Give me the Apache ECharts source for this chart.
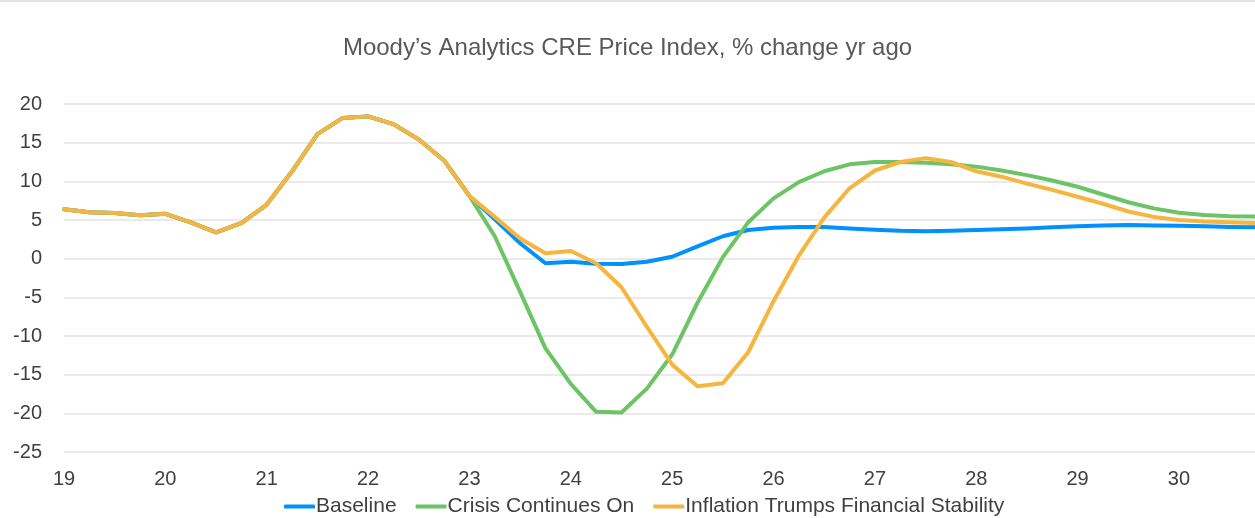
<!DOCTYPE html>
<html>
<head>
<meta charset="utf-8">
<title>Moody's Analytics CRE Price Index</title>
<script src="https://cdn.jsdelivr.net/npm/echarts@6/dist/echarts.min.js"></script>
<style>
	html, body { margin: 0; padding: 0; background: #fff; }
	#chart { width: 1255px; height: 518px; }
</style>
</head>
<body>
<div id="chart"></div>
<script type="text/javascript">
	// quarters 2019Q1 .. 2030Q4, label shown on Q1 only
	var quarters = [
		'19Q1','19Q2','19Q3','19Q4','20Q1','20Q2','20Q3','20Q4',
		'21Q1','21Q2','21Q3','21Q4','22Q1','22Q2','22Q3','22Q4',
		'23Q1','23Q2','23Q3','23Q4','24Q1','24Q2','24Q3','24Q4',
		'25Q1','25Q2','25Q3','25Q4','26Q1','26Q2','26Q3','26Q4',
		'27Q1','27Q2','27Q3','27Q4','28Q1','28Q2','28Q3','28Q4',
		'29Q1','29Q2','29Q3','29Q4','30Q1','30Q2','30Q3','30Q4'
	];
	var baseline = [
		6.4, 6.0, 5.9, 5.6, 5.8, 4.7, 3.4, 4.6, 7.0, 11.3, 16.1, 18.2, 18.4, 17.4, 15.4, 12.7,
		8.1, 5.1, 2.0, -0.6, -0.4, -0.65, -0.7, -0.4, 0.25, 1.6, 2.9, 3.7, 4.0, 4.1, 4.1, 3.9,
		3.75, 3.6, 3.55, 3.6, 3.7, 3.8, 3.9, 4.05, 4.2, 4.3, 4.35, 4.3, 4.25, 4.2, 4.1, 4.05
	];
	var crisis = [
		6.4, 6.0, 5.9, 5.6, 5.8, 4.7, 3.4, 4.6, 7.0, 11.3, 16.1, 18.2, 18.4, 17.4, 15.4, 12.7,
		8.1, 2.9, -4.3, -11.6, -16.2, -19.8, -19.9, -16.8, -12.4, -5.7, 0.2, 4.7, 7.8, 9.9, 11.3, 12.2,
		12.5, 12.5, 12.4, 12.2, 11.9, 11.4, 10.8, 10.1, 9.3, 8.3, 7.3, 6.5, 5.95, 5.65, 5.5, 5.45
	];
	var inflation = [
		6.4, 6.0, 5.9, 5.6, 5.8, 4.7, 3.4, 4.6, 7.0, 11.3, 16.1, 18.2, 18.4, 17.4, 15.4, 12.7,
		8.1, 5.4, 2.6, 0.7, 1.0, -0.6, -3.7, -8.8, -13.7, -16.5, -16.1, -12.1, -5.5, 0.4, 5.3, 9.1,
		11.4, 12.5, 13.0, 12.5, 11.3, 10.6, 9.7, 8.9, 8.0, 7.1, 6.1, 5.4, 5.0, 4.8, 4.7, 4.6
	];
	var seriesNames = ['Baseline', 'Crisis Continues On', 'Inflation Trumps Financial Stability'];
	var colors = ['#0091fa', '#6cc466', '#f5b53f'];

	var font = 'Liberation Sans, Arial, sans-serif';
	var myChart = echarts.init(document.getElementById('chart'));

	function lineSeries(name, data, color) {
		return {
			name : name,
			type : 'line',
			data : data,
			showSymbol : false,
			symbol : 'none',
			smooth : false,
			lineStyle : { width : 4, color : color, cap : 'round', join : 'round' },
			itemStyle : { color : color }
		};
	}

	var option = {
		animation : false,
		color : colors,
		title : {
			text : 'Moody’s Analytics CRE Price Index, % change yr ago',
			left : 'center',
			top : 31,
			textStyle : { fontFamily : font, fontSize : 24, fontWeight : 'normal', color : '#595959' }
		},
		graphic : [{
			type : 'line',
			shape : { x1 : 0, y1 : 1, x2 : 1255, y2 : 1 },
			style : { stroke : '#d9d9d9', lineWidth : 1.5 }
		}],
		legend : {
			top : 491,
			left : 279,
			itemGap : 19,
			itemWidth : 31,
			itemHeight : 4,
			icon : 'roundRect',
			data : seriesNames,
			textStyle : { fontFamily : font, fontSize : 21, color : '#404040', padding : [0, 0, 0, -4] }
		},
		grid : {
			left : 64,
			right : -4,
			top : 104,
			bottom : 66,
			containLabel : false
		},
		xAxis : {
			type : 'category',
			boundaryGap : false,
			data : quarters,
			axisLine : { show : false },
			axisTick : { show : false },
			splitLine : { show : false },
			axisLabel : {
				interval : 3,
				margin : 17,
				fontFamily : font,
				fontSize : 20,
				color : '#404040',
				formatter : function (value) { return value.substring(0, 2); }
			}
		},
		yAxis : {
			type : 'value',
			min : -25,
			max : 20,
			interval : 5,
			axisLine : { show : false },
			axisTick : { show : false },
			splitLine : { lineStyle : { color : '#e3e3e3', width : 1.5 } },
			axisLabel : { margin : 22, fontFamily : font, fontSize : 20, color : '#404040' }
		},
		series : [
			lineSeries(seriesNames[0], baseline, colors[0]),
			lineSeries(seriesNames[1], crisis, colors[1]),
			lineSeries(seriesNames[2], inflation, colors[2])
		]
	};
	myChart.setOption(option);
</script>
</body>
</html>
